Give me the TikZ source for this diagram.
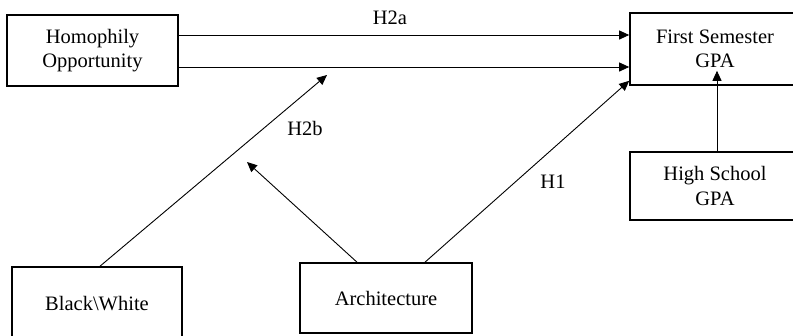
\documentclass[tikz,border=0pt]{standalone}
\usepackage{fontspec}
\setmainfont{Liberation Serif}
\usetikzlibrary{arrows.meta}
\begin{document}
\begin{tikzpicture}[x=1pt,y=-1pt,
  box/.style={draw,line width=1.6pt,inner sep=0pt,align=center,font=\fontsize{20.5}{24.5}\selectfont},
  lab/.style={inner sep=0pt,font=\fontsize{20.5}{24.5}\selectfont},
  arr/.style={line width=0.9pt,-{Triangle[length=10pt,width=9pt]}}]
\useasboundingbox (0,0) rectangle (793,335);
\node[box,minimum width=171,minimum height=71] (homo) at (92.5,50.5) {Homophily\\Opportunity};
\node[box,minimum width=170,minimum height=72] (fs) at (715,49) {First Semester\\GPA};
\node[box,minimum width=170,minimum height=68] (hs) at (715,186) {High School\\GPA};
\node[box,minimum width=170,minimum height=74] (bw) at (97,304) {Black\textbackslash White};
\node[box,minimum width=172,minimum height=70] (arch) at (386,298) {Architecture};
\coordinate (m1) at (327,75);
\coordinate (m2) at (247,162);
\draw[arr] (homo.east |- 0,35) -- (fs.west |- 0,35);
\draw[arr] (homo.east |- 0,67) -- (fs.west |- 0,67);
\draw[arr] ([xshift=3]bw.north) -- (m1);
\draw[arr] ([xshift=-29]arch.north) -- (m2);
\draw[arr] ([xshift=39]arch.north) -- ([yshift=5]fs.south west);
\draw[arr] ([xshift=2]hs.north) -- ([xshift=2,yshift=15]fs.south);
\node[lab] (h2a) at (390,18) {H2a};
\node[lab] (h2b) at (305,128) {H2b};
\node[lab] (h1) at (553,182) {H1};
\end{tikzpicture}
\end{document}
